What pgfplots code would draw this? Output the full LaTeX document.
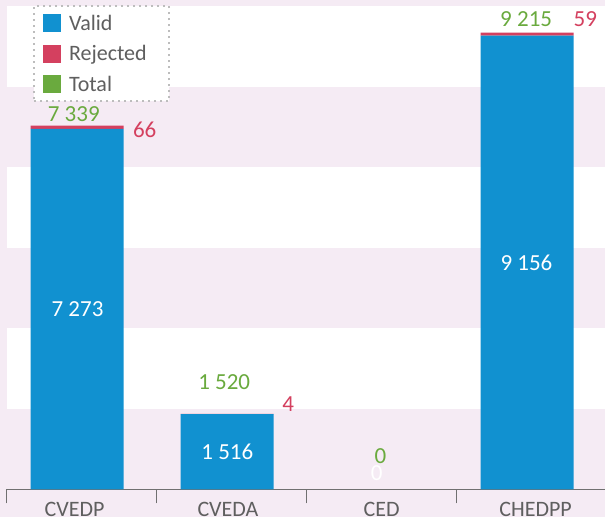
\documentclass[border=0pt]{standalone}
\usepackage{pgfplots}
\pgfplotsset{compat=1.18}
\usepackage{fontspec}
\setmainfont{Carlito}
\definecolor{bgpink}{HTML}{F5EBF4}
\definecolor{cblue}{HTML}{1191D0}
\definecolor{cred}{HTML}{D4405F}
\definecolor{cgreen}{HTML}{6AAA3E}
\definecolor{cgray}{HTML}{5F5F5F}
\definecolor{axgray}{HTML}{707070}
\definecolor{dotgray}{HTML}{BDBDBD}
\newcommand\valfont{\fontsize{23}{27}\selectfont}
\newcommand\lblfont{\fontsize{22}{26}\selectfont}
\pgfplotsset{
  common/.style={
    at={(6.7pt,27.7pt)}, anchor=south west, scale only axis,
    width=598.3pt, height=483.3pt,
    xmin=-0.5, xmax=3.4887, ymin=0, ymax=9754,
  },
  sqlegend/.style={legend image code/.code={%
      \fill[##1, draw=none] (0pt,-9pt) rectangle (18pt,9pt);
      \path (26pt,0pt);}},
  lbl/.style={only marks, mark=none, nodes near coords,
    point meta=explicit symbolic,
    nodes near coords style={anchor=center, font=\valfont, inner sep=0pt, text=#1}},
}
\begin{document}
\begin{tikzpicture}
\fill[bgpink] (0,0) rectangle (605pt,517pt);
\useasboundingbox (0,0) rectangle (605pt,517pt);
\fill[white] (6.7pt,108.25pt) rectangle (605pt,188.8pt);
\fill[white] (6.7pt,269.35pt) rectangle (605pt,349.9pt);
\fill[white] (6.7pt,430.45pt) rectangle (605pt,511pt);
\begin{axis}[common,
  axis y line=none,
  axis x line*=bottom,
  x axis line style={axgray, line width=1pt},
  ybar stacked, bar width=93pt, bar shift=-4.5pt,
  xtick={-0.048,0.975,2,3.026},
  xticklabels={CVEDP,CVEDA,CED,CHEDPP},
  major tick length=0pt,
  minor xtick={-0.5,0.5,1.5,2.5},
  minor tick length=14pt,
  tick align=outside,
  every tick/.style={axgray, line width=1pt},
  ytick=\empty,
  xticklabel style={font=\lblfont, text=cgray, inner sep=0pt, yshift=-13pt},
  legend cell align=left,
  legend style={at={(0.044,1.002)}, anchor=north west,
    draw=dotgray, line width=2pt, dash pattern=on 2pt off 4pt,
    fill=white, font=\lblfont, text=cgray,
    inner xsep=9pt, inner ysep=8pt, row sep=12.5pt,
    nodes={inner sep=0pt, text height=14pt, text depth=0pt, text width=91pt, align=left}},
]
\addplot[fill=cblue, draw=none, sqlegend] coordinates {(0,7273) (1,1516) (2,0) (3,9156)};
\addlegendentry{Valid}
\addplot[fill=cred, draw=none, sqlegend] coordinates {(0,66) (1,4) (2,0) (3,59)};
\addlegendentry{Rejected}
\addlegendimage{fill=cgreen, draw=none, sqlegend}
\addlegendentry{Total}
\end{axis}
\begin{axis}[common, hide axis, clip=false]
\addplot[lbl=white] coordinates {(-0.028,3636)[7 273] (0.971,758)[1 516] (1.967,329)[0] (2.965,4578)[9 156]};
\addplot[lbl=cgreen] coordinates {(-0.053,7564)[7 339] (0.95,2161)[1 520] (1.992,676)[0] (2.963,9486)[9 215]};
\addplot[lbl=cred] coordinates {(0.42,7257)[66] (1.377,1711)[4] (3.358,9488)[59]};
\end{axis}
\end{tikzpicture}
\end{document}
